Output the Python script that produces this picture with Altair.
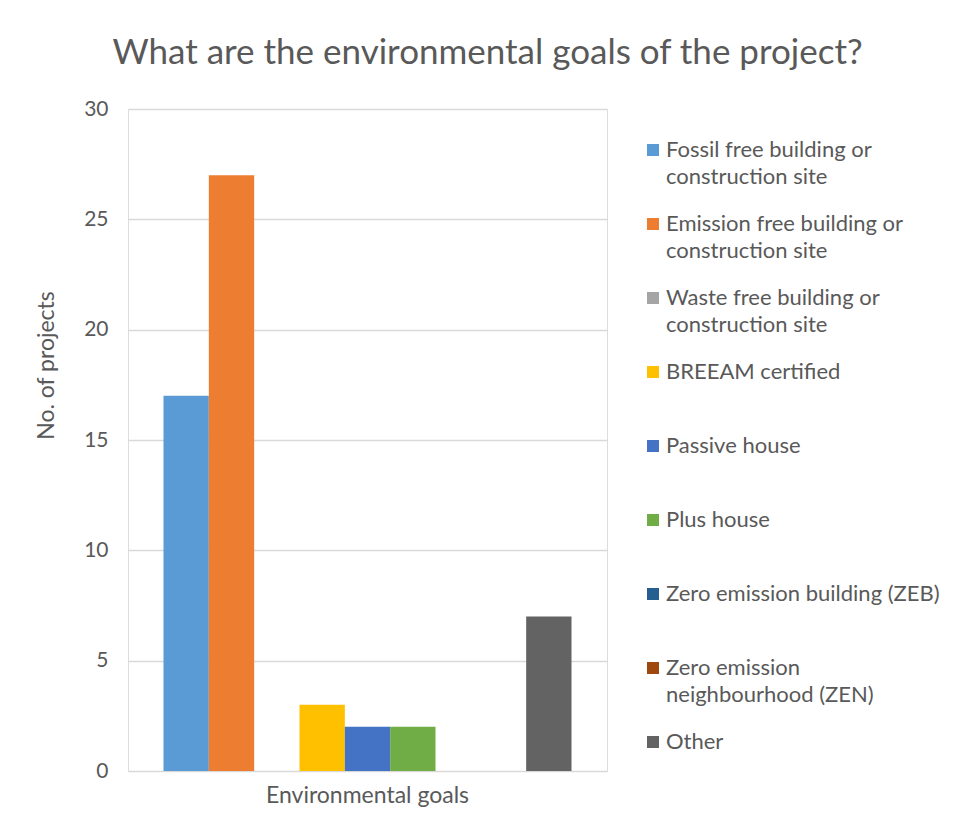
import altair as alt
import pandas as pd

# ---- data ----
group_label = "Environmental goals"
goals = [
    "Fossil free building or construction site",
    "Emission free building or construction site",
    "Waste free building or construction site",
    "BREEAM certified",
    "Passive house",
    "Plus house",
    "Zero emission building (ZEB)",
    "Zero emission neighbourhood (ZEN)",
    "Other",
]
# legend label lines, split where the reference wraps them
legend_lines = [
    "Fossil free building or|construction site",
    "Emission free building or|construction site",
    "Waste free building or|construction site",
    "BREEAM certified|",
    "Passive house|",
    "Plus house|",
    "Zero emission building (ZEB)|",
    "Zero emission|neighbourhood (ZEN)",
    "Other|",
]
counts = [17, 27, 0, 3, 2, 2, 0, 0, 7]
colors = ["#5B9BD5", "#ED7D31", "#A5A5A5", "#FFC000", "#4472C4",
          "#70AD47", "#255E91", "#9E480E", "#636363"]
y_ticks = [0, 5, 10, 15, 20, 25, 30]

df = pd.DataFrame({
    "group": [group_label] * len(goals),
    "goal": legend_lines,
    "count": counts,
})

FONT = "Lato"
TXT = "#595959"

chart = alt.Chart(df).mark_bar().encode(
    x=alt.X("group:N",
            scale=alt.Scale(paddingInner=0, paddingOuter=0.087),
            axis=alt.Axis(title=None, labelAngle=0, domain=False, ticks=False,
                          labelPadding=13, labelFontSize=23, labelColor=TXT,
                          labelFont=FONT, labelLimit=500)),
    xOffset=alt.XOffset("goal:N", sort=legend_lines,
                        scale=alt.Scale(paddingInner=0, paddingOuter=0)),
    y=alt.Y("count:Q",
            scale=alt.Scale(domain=[0, 30], nice=False),
            axis=alt.Axis(values=y_ticks, title="No. of projects", domain=False,
                          ticks=False, labelPadding=20, labelFontSize=21,
                          labelColor=TXT, labelFont=FONT, titleFontSize=23,
                          titleColor=TXT, titleFont=FONT, titleFontWeight="normal",
                          titleX=-70, titleY=256, gridColor="#D9D9D9",
                          gridWidth=1.5)),
    color=alt.Color("goal:N", sort=legend_lines,
                    scale=alt.Scale(domain=legend_lines, range=colors),
                    legend=alt.Legend(
                        title=None, orient="none", legendX=514, legendY=30,
                        symbolType="square", symbolSize=144, symbolStrokeWidth=0,
                        labelOffset=2, labelFontSize=22, labelColor=TXT,
                        labelFont=FONT, labelLimit=400, rowPadding=25,
                        padding=0,
                        labelExpr="split(datum.label, '|')")),
).properties(
    width=479,
    height=662,
    title=alt.TitleParams(
        "What are the environmental goals of the project?",
        fontSize=35, font=FONT, color=TXT, fontWeight="normal",
        anchor="middle", frame="bounds", offset=27),
).configure_view(stroke=None).configure(
    padding={"left": 27, "top": 28, "right": 5, "bottom": 5},
    style={"guide-label": {"lineHeight": 27}},
)

chart.save("out.html", embed_options={"renderer": "svg", "actions": False})
